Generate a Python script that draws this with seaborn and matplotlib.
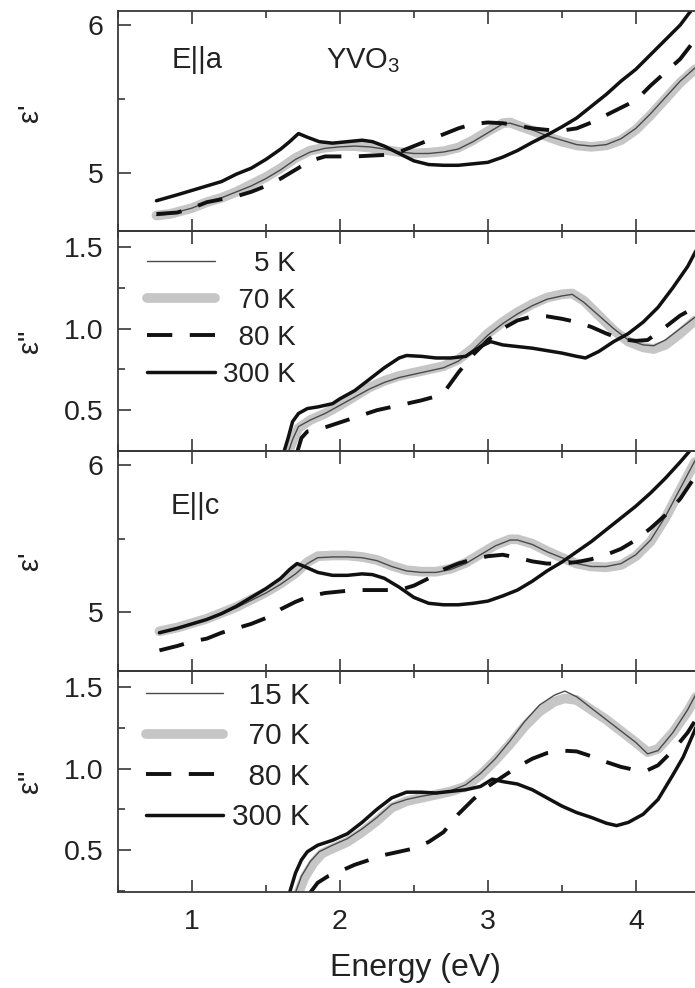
import matplotlib
matplotlib.use("Agg")
import matplotlib.pyplot as plt
import seaborn as sns
from matplotlib.ticker import MultipleLocator, FormatStrFormatter

# ---------------- data ----------------
# Panel 1: E||a, eps'
a1_x300 = [0.76, 0.9, 1.0, 1.1, 1.2, 1.3, 1.4, 1.5, 1.6, 1.66, 1.72, 1.78, 1.86, 1.95, 2.05, 2.15, 2.22, 2.3, 2.4, 2.5, 2.6, 2.7, 2.8, 2.9, 3.0, 3.1, 3.2, 3.3, 3.4, 3.5, 3.6, 3.7, 3.8, 3.9, 4.0, 4.1, 4.2, 4.3, 4.36, 4.42]
a1_y300 = [4.81, 4.85, 4.88, 4.91, 4.94, 4.99, 5.03, 5.09, 5.16, 5.21, 5.265, 5.24, 5.21, 5.20, 5.21, 5.22, 5.21, 5.18, 5.13, 5.08, 5.055, 5.05, 5.05, 5.06, 5.07, 5.105, 5.15, 5.205, 5.255, 5.31, 5.37, 5.45, 5.53, 5.62, 5.70, 5.80, 5.90, 6.00, 6.08, 6.15]
a1_x5 = [0.76, 0.85, 1.0, 1.1, 1.2, 1.3, 1.4, 1.5, 1.6, 1.7, 1.8, 1.9, 2.0, 2.1, 2.2, 2.3, 2.4, 2.5, 2.6, 2.7, 2.8, 2.9, 3.0, 3.1, 3.15, 3.2, 3.3, 3.4, 3.5, 3.6, 3.7, 3.8, 3.9, 4.0, 4.1, 4.2, 4.3, 4.4]
a1_y5 = [4.71, 4.72, 4.76, 4.80, 4.83, 4.87, 4.91, 4.96, 5.02, 5.09, 5.14, 5.165, 5.175, 5.18, 5.175, 5.16, 5.14, 5.13, 5.13, 5.14, 5.16, 5.21, 5.27, 5.33, 5.335, 5.32, 5.29, 5.25, 5.22, 5.19, 5.18, 5.19, 5.23, 5.30, 5.40, 5.51, 5.62, 5.71]
a1_x70 = [0.76, 0.85, 1.0, 1.1, 1.2, 1.3, 1.4, 1.5, 1.6, 1.7, 1.8, 1.9, 2.0, 2.1, 2.2, 2.3, 2.4, 2.5, 2.6, 2.7, 2.8, 2.9, 3.0, 3.1, 3.15, 3.2, 3.3, 3.4, 3.5, 3.6, 3.7, 3.8, 3.9, 4.0, 4.1, 4.2, 4.3, 4.4]
a1_y70 = [4.71, 4.72, 4.76, 4.80, 4.83, 4.87, 4.92, 4.97, 5.03, 5.10, 5.15, 5.17, 5.18, 5.18, 5.17, 5.155, 5.14, 5.13, 5.135, 5.145, 5.17, 5.22, 5.28, 5.335, 5.34, 5.32, 5.285, 5.245, 5.21, 5.185, 5.175, 5.185, 5.22, 5.29, 5.39, 5.50, 5.61, 5.70]
a1_x80 = [0.76, 0.9, 1.0, 1.1, 1.2, 1.3, 1.4, 1.5, 1.6, 1.7, 1.8, 1.9, 2.0, 2.1, 2.2, 2.3, 2.4, 2.5, 2.6, 2.7, 2.8, 2.9, 3.0, 3.1, 3.2, 3.3, 3.4, 3.5, 3.6, 3.7, 3.8, 3.9, 4.0, 4.1, 4.2, 4.3, 4.4]
a1_y80 = [4.72, 4.73, 4.76, 4.80, 4.82, 4.84, 4.87, 4.91, 4.96, 5.02, 5.08, 5.11, 5.11, 5.11, 5.115, 5.12, 5.14, 5.18, 5.22, 5.26, 5.30, 5.33, 5.34, 5.335, 5.32, 5.30, 5.29, 5.285, 5.30, 5.34, 5.39, 5.44, 5.49, 5.59, 5.68, 5.77, 5.90]

# Panel 2: E||a, eps''
a2_x300 = [1.62, 1.65, 1.68, 1.72, 1.78, 1.85, 1.95, 2.0, 2.1, 2.2, 2.3, 2.4, 2.45, 2.55, 2.65, 2.75, 2.85, 2.95, 3.02, 3.1, 3.2, 3.3, 3.4, 3.5, 3.6, 3.66, 3.75, 3.85, 3.95, 4.05, 4.15, 4.25, 4.35, 4.42]
a2_y300 = [0.24, 0.33, 0.43, 0.48, 0.51, 0.52, 0.54, 0.57, 0.62, 0.69, 0.76, 0.82, 0.835, 0.83, 0.82, 0.82, 0.83, 0.89, 0.92, 0.90, 0.89, 0.88, 0.865, 0.85, 0.83, 0.82, 0.86, 0.92, 0.97, 1.04, 1.13, 1.25, 1.38, 1.50]
a2_x5 = [1.65, 1.68, 1.72, 1.8, 1.9, 2.0, 2.1, 2.2, 2.3, 2.4, 2.5, 2.6, 2.7, 2.8, 2.9, 3.0, 3.1, 3.2, 3.3, 3.4, 3.5, 3.57, 3.65, 3.75, 3.85, 3.95, 4.05, 4.12, 4.2, 4.3, 4.4]
a2_y5 = [0.24, 0.32, 0.40, 0.44, 0.48, 0.53, 0.58, 0.63, 0.67, 0.70, 0.72, 0.74, 0.76, 0.80, 0.87, 0.96, 1.03, 1.09, 1.14, 1.18, 1.20, 1.21, 1.16, 1.08, 1.00, 0.93, 0.90, 0.895, 0.93, 1.00, 1.07]
a2_x70 = [1.65, 1.68, 1.72, 1.8, 1.9, 2.0, 2.1, 2.2, 2.3, 2.4, 2.5, 2.6, 2.7, 2.8, 2.9, 3.0, 3.1, 3.2, 3.3, 3.4, 3.5, 3.57, 3.65, 3.75, 3.85, 3.95, 4.05, 4.12, 4.2, 4.3, 4.4]
a2_y70 = [0.24, 0.31, 0.39, 0.44, 0.48, 0.53, 0.585, 0.64, 0.68, 0.71, 0.73, 0.75, 0.77, 0.81, 0.88, 0.97, 1.04, 1.10, 1.15, 1.19, 1.21, 1.215, 1.17, 1.08, 0.99, 0.92, 0.885, 0.875, 0.90, 0.97, 1.05]
a2_x80 = [1.71, 1.74, 1.78, 1.85, 1.95, 2.05, 2.15, 2.25, 2.35, 2.45, 2.55, 2.65, 2.72, 2.8, 2.9, 3.0, 3.1, 3.2, 3.3, 3.4, 3.5, 3.6, 3.7, 3.8, 3.9, 4.0, 4.08, 4.2, 4.3, 4.4]
a2_y80 = [0.24, 0.33, 0.37, 0.38, 0.41, 0.44, 0.47, 0.50, 0.52, 0.54, 0.56, 0.585, 0.63, 0.73, 0.84, 0.93, 1.00, 1.05, 1.075, 1.075, 1.06, 1.04, 1.01, 0.97, 0.935, 0.925, 0.93, 1.01, 1.08, 1.13]

# Panel 3: E||c, eps'
c1_x300 = [0.78, 0.9, 1.0, 1.1, 1.2, 1.3, 1.4, 1.5, 1.6, 1.66, 1.71, 1.76, 1.85, 1.95, 2.05, 2.15, 2.22, 2.3, 2.4, 2.5, 2.6, 2.7, 2.8, 2.9, 3.0, 3.1, 3.2, 3.3, 3.4, 3.5, 3.6, 3.7, 3.8, 3.9, 4.0, 4.1, 4.2, 4.3, 4.36, 4.42]
c1_y300 = [4.86, 4.89, 4.92, 4.95, 4.99, 5.04, 5.10, 5.16, 5.23, 5.29, 5.33, 5.31, 5.27, 5.25, 5.25, 5.26, 5.255, 5.23, 5.17, 5.10, 5.06, 5.05, 5.05, 5.06, 5.075, 5.11, 5.15, 5.21, 5.28, 5.34, 5.41, 5.48, 5.56, 5.64, 5.72, 5.81, 5.91, 6.02, 6.09, 6.16]
c1_x5 = [0.78, 0.9, 1.0, 1.1, 1.2, 1.3, 1.4, 1.5, 1.6, 1.7, 1.78, 1.85, 1.95, 2.05, 2.15, 2.25, 2.35, 2.45, 2.55, 2.65, 2.75, 2.85, 2.95, 3.05, 3.15, 3.2, 3.3, 3.4, 3.5, 3.6, 3.7, 3.8, 3.9, 4.0, 4.1, 4.2, 4.3, 4.4]
c1_y5 = [4.86, 4.89, 4.92, 4.95, 4.99, 5.03, 5.08, 5.13, 5.19, 5.26, 5.33, 5.37, 5.375, 5.375, 5.37, 5.35, 5.31, 5.28, 5.27, 5.27, 5.29, 5.33, 5.39, 5.45, 5.49, 5.49, 5.46, 5.41, 5.37, 5.33, 5.31, 5.31, 5.33, 5.39, 5.49, 5.65, 5.84, 6.03]
c1_x70 = [0.78, 0.9, 1.0, 1.1, 1.2, 1.3, 1.4, 1.5, 1.6, 1.7, 1.78, 1.85, 1.95, 2.05, 2.15, 2.25, 2.35, 2.45, 2.55, 2.65, 2.75, 2.85, 2.95, 3.05, 3.15, 3.2, 3.3, 3.4, 3.5, 3.6, 3.7, 3.8, 3.9, 4.0, 4.1, 4.2, 4.3, 4.4]
c1_y70 = [4.87, 4.895, 4.925, 4.955, 4.995, 5.035, 5.085, 5.135, 5.195, 5.265, 5.34, 5.38, 5.385, 5.385, 5.375, 5.355, 5.315, 5.285, 5.275, 5.275, 5.295, 5.335, 5.395, 5.455, 5.495, 5.495, 5.465, 5.415, 5.37, 5.33, 5.31, 5.305, 5.32, 5.38, 5.48, 5.64, 5.83, 6.02]
c1_x80 = [0.78, 0.9, 1.0, 1.1, 1.2, 1.3, 1.4, 1.5, 1.6, 1.7, 1.8, 1.9, 2.0, 2.1, 2.2, 2.3, 2.4, 2.5, 2.6, 2.7, 2.8, 2.9, 3.0, 3.1, 3.2, 3.3, 3.4, 3.5, 3.6, 3.7, 3.8, 3.9, 4.0, 4.1, 4.2, 4.3, 4.4]
c1_y80 = [4.74, 4.77, 4.80, 4.82, 4.86, 4.89, 4.92, 4.96, 5.02, 5.07, 5.11, 5.13, 5.14, 5.15, 5.15, 5.15, 5.15, 5.18, 5.23, 5.29, 5.33, 5.36, 5.38, 5.39, 5.37, 5.345, 5.33, 5.33, 5.34, 5.36, 5.39, 5.43, 5.49, 5.57, 5.66, 5.77, 5.92]

# Panel 4: E||c, eps''
c2_x300 = [1.66, 1.70, 1.74, 1.78, 1.85, 1.95, 2.05, 2.15, 2.25, 2.35, 2.45, 2.55, 2.65, 2.75, 2.85, 2.95, 3.03, 3.1, 3.2, 3.3, 3.4, 3.5, 3.6, 3.7, 3.8, 3.87, 3.95, 4.05, 4.15, 4.25, 4.32, 4.42]
c2_y300 = [0.24, 0.36, 0.44, 0.49, 0.53, 0.56, 0.60, 0.67, 0.75, 0.82, 0.855, 0.855, 0.85, 0.86, 0.87, 0.89, 0.935, 0.92, 0.905, 0.87, 0.82, 0.77, 0.73, 0.70, 0.665, 0.65, 0.67, 0.72, 0.81, 0.96, 1.07, 1.28]
c2_x15 = [1.70, 1.74, 1.8, 1.86, 1.95, 2.05, 2.15, 2.25, 2.35, 2.45, 2.55, 2.65, 2.75, 2.85, 2.95, 3.05, 3.15, 3.25, 3.35, 3.45, 3.52, 3.6, 3.7, 3.8, 3.9, 4.0, 4.08, 4.15, 4.25, 4.35, 4.42]
c2_y15 = [0.24, 0.34, 0.43, 0.49, 0.53, 0.57, 0.63, 0.70, 0.78, 0.81, 0.83, 0.845, 0.865, 0.90, 0.97, 1.06, 1.17, 1.29, 1.39, 1.45, 1.475, 1.44, 1.37, 1.30, 1.23, 1.16, 1.09, 1.11, 1.22, 1.36, 1.48]
c2_x70 = [1.72, 1.76, 1.82, 1.88, 1.95, 2.05, 2.15, 2.25, 2.35, 2.45, 2.55, 2.65, 2.75, 2.85, 2.95, 3.05, 3.15, 3.25, 3.35, 3.45, 3.52, 3.6, 3.7, 3.8, 3.9, 4.0, 4.08, 4.15, 4.25, 4.35, 4.42]
c2_y70 = [0.24, 0.33, 0.42, 0.48, 0.51, 0.55, 0.61, 0.68, 0.76, 0.80, 0.82, 0.84, 0.86, 0.89, 0.96, 1.05, 1.15, 1.26, 1.35, 1.41, 1.43, 1.42, 1.36, 1.30, 1.23, 1.16, 1.10, 1.12, 1.22, 1.35, 1.46]
c2_x80 = [1.80, 1.85, 1.92, 2.0, 2.1, 2.2, 2.3, 2.4, 2.5, 2.6, 2.7, 2.8, 2.9, 3.0, 3.1, 3.2, 3.3, 3.4, 3.5, 3.6, 3.7, 3.8, 3.9, 4.0, 4.08, 4.15, 4.25, 4.35, 4.42]
c2_y80 = [0.24, 0.30, 0.34, 0.37, 0.41, 0.44, 0.47, 0.49, 0.51, 0.55, 0.61, 0.72, 0.81, 0.89, 0.95, 1.01, 1.06, 1.095, 1.11, 1.105, 1.075, 1.04, 1.01, 0.99, 0.99, 1.02, 1.11, 1.22, 1.32]

legend_a = ["    5 K", "  70 K", "  80 K", "300 K"]
legend_c = ["  15 K", "  70 K", "  80 K", "300 K"]

# ---------------- style ----------------
sns.set_theme(style="white")
plt.rcParams["font.family"] = ["Liberation Sans", "DejaVu Sans"]
plt.rcParams["mathtext.fontset"] = "custom"
plt.rcParams["mathtext.rm"] = "Liberation Sans"
plt.rcParams["mathtext.it"] = "Liberation Sans:italic"
TXT = "#222222"
SPINE = "#383838"

fig = plt.figure(figsize=(6.95, 9.88), dpi=100)
W, H = 695.0, 988.0
L, R = 118.0, 695.0
tops = [11, 231, 451, 671]
heights = [220, 220, 220, 221]

axes = []
for t, h in zip(tops, heights):
    ax = fig.add_axes([L / W, 1 - (t + h) / H, (R - L) / W, h / H])
    axes.append(ax)


def draw(ax, x5, y5, x70, y70, x80, y80, x300, y300):
    sns.lineplot(x=x70, y=y70, ax=ax, color="#c6c6c6", linewidth=7,
                 solid_capstyle="round", estimator=None, sort=False, legend=False)
    h70 = ax.lines[-1]
    sns.lineplot(x=x5, y=y5, ax=ax, color="#4a4a4a", linewidth=1.0,
                 estimator=None, sort=False, legend=False)
    h5 = ax.lines[-1]
    sns.lineplot(x=x80, y=y80, ax=ax, color="#111111", linewidth=2.8,
                 linestyle=(0, (6.5, 4.5)), estimator=None, sort=False, legend=False)
    h80 = ax.lines[-1]
    sns.lineplot(x=x300, y=y300, ax=ax, color="#111111", linewidth=2.5,
                 estimator=None, sort=False, legend=False)
    h300 = ax.lines[-1]
    return [h5, h70, h80, h300]


hA1 = draw(axes[0], a1_x5, a1_y5, a1_x70, a1_y70, a1_x80, a1_y80, a1_x300, a1_y300)
hA2 = draw(axes[1], a2_x5, a2_y5, a2_x70, a2_y70, a2_x80, a2_y80, a2_x300, a2_y300)
hC1 = draw(axes[2], c1_x5, c1_y5, c1_x70, c1_y70, c1_x80, c1_y80, c1_x300, c1_y300)
hC2 = draw(axes[3], c2_x15, c2_y15, c2_x70, c2_y70, c2_x80, c2_y80, c2_x300, c2_y300)

ylims = [(4.605, 6.095), (0.25, 1.598), (4.60, 6.095), (0.243, 1.598)]
for i, ax in enumerate(axes):
    ax.set_xlim(0.5, 4.4)
    ax.set_ylim(*ylims[i])
    ax.xaxis.set_major_locator(MultipleLocator(1))
    ax.xaxis.set_minor_locator(MultipleLocator(0.5))
    if i in (0, 2):
        ax.yaxis.set_major_locator(MultipleLocator(1))
        ax.yaxis.set_minor_locator(MultipleLocator(0.5))
        ax.yaxis.set_major_formatter(FormatStrFormatter("%d"))
    else:
        ax.yaxis.set_major_locator(MultipleLocator(0.5))
        ax.yaxis.set_minor_locator(MultipleLocator(0.25))
        ax.yaxis.set_major_formatter(FormatStrFormatter("%.1f"))
    ax.tick_params(axis="both", which="both", direction="in", top=True, bottom=True,
                   left=True, right=False, width=1.2, color=SPINE, labelcolor=TXT)
    ax.tick_params(which="major", length=9)
    ax.tick_params(which="minor", length=4.8)
    ax.tick_params(axis="y", labelsize=20.5, pad=10.5)
    ax.tick_params(axis="x", labelsize=20.5, pad=12, labelbottom=(i == 3))
    ax.spines["right"].set_visible(False)
    for s in ("left", "top", "bottom"):
        ax.spines[s].set_color(SPINE)
        ax.spines[s].set_linewidth(1.3)
    ax.set_xlabel("")
    ax.patch.set_alpha(0)

ylabels = ["ε'", 'ε"', "ε'", 'ε"']
ycent = [0.54, 0.5, 0.5, 0.5]
for ax, lab, yc in zip(axes, ylabels, ycent):
    ax.set_ylabel(lab, fontsize=21, color=TXT)
    ax.yaxis.set_label_coords(-0.128, yc)

axes[3].set_xlabel("Energy (eV)", fontsize=23, color=TXT)
axes[3].xaxis.set_label_coords(0.516, -0.275)

# annotations
axes[0].text(0.865, 5.71, "E||a", fontsize=21, color=TXT, ha="left", va="baseline")
axes[0].text(1.905, 5.71, r"YVO$_\mathrm{3}$", fontsize=21, color=TXT, ha="left", va="baseline")
axes[2].text(0.858, 5.67, "E||c", fontsize=21, color=TXT, ha="left", va="baseline")

# legends
lg2 = axes[1].legend(hA2, legend_a, loc="upper left", bbox_to_anchor=(0.050, 0.91),
                     frameon=False, fontsize=20, handlelength=2.45, handletextpad=0.3,
                     labelspacing=0.40, borderpad=0, borderaxespad=0)
lg4 = axes[3].legend(hC2, legend_c, loc="upper left", bbox_to_anchor=(0.048, 0.952),
                     frameon=False, fontsize=21.5, handlelength=2.6, handletextpad=0.3,
                     labelspacing=0.42, borderpad=0, borderaxespad=0)
for lg in (lg2, lg4):
    for t in lg.get_texts():
        t.set_color(TXT)

fig.savefig("out.png", dpi=100)
